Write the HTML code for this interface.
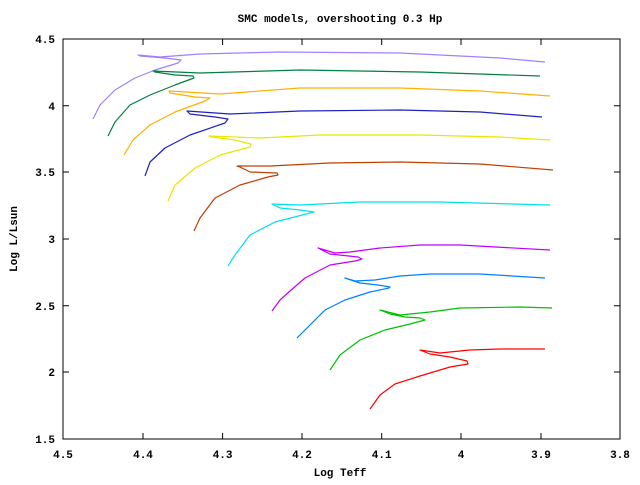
<!DOCTYPE html>
<html><head><meta charset="utf-8"><style>
body{margin:0;background:#fff}
svg text{font-family:"Liberation Mono",monospace;font-size:11px;font-weight:bold;fill:#000}
</style></head><body>
<svg width="640" height="480" viewBox="0 0 640 480" xmlns="http://www.w3.org/2000/svg">
<rect width="640" height="480" fill="#fff"/>
<rect x="63" y="39" width="557" height="400" fill="none" stroke="#000" stroke-width="1"/>
<g stroke="#000" stroke-width="1">
<path d="M143,439v-6M143,39v6M222.6,439v-6M222.6,39v6M302,439v-6M302,39v6M381.7,439v-6M381.7,39v6M461,439v-6M461,39v6M541,439v-6M541,39v6"/>
<path d="M63,372h6M620,372h-6M63,305.7h6M620,305.7h-6M63,239h6M620,239h-6M63,172h6M620,172h-6M63,105.7h6M620,105.7h-6"/>
</g>
<g text-anchor="end">
<text x="55" y="443">1.5</text><text x="55" y="376">2</text><text x="55" y="310">2.5</text>
<text x="55" y="243">3</text><text x="55" y="176">3.5</text><text x="55" y="110">4</text><text x="55" y="43">4.5</text>
</g>
<g text-anchor="middle">
<text x="63" y="458">4.5</text><text x="143" y="458">4.4</text><text x="222.6" y="458">4.3</text><text x="302" y="458">4.2</text>
<text x="381.7" y="458">4.1</text><text x="461" y="458">4</text><text x="541" y="458">3.9</text><text x="620" y="458">3.8</text>
<text x="340" y="476">Log Teff</text>
<text x="340" y="22">SMC models, overshooting 0.3 Hp</text>
</g>
<text transform="translate(17,239) rotate(-90)" text-anchor="middle">Log L/Lsun</text>
<g fill="none" stroke-width="1.2" stroke-linejoin="round">
<path stroke="#a080ff" d="M93,119L100,105L115,90L135,78L155,70L178,63L181,60L165,58L140,56L138,55L160,57L200,54L280,52L400,53L500,58L545,62"/>
<path stroke="#008040" d="M108,136L115,122L130,105L150,95L175,85L194,78L193,76L175,75L155,72L153,71L200,73L300,70L420,72L540,76"/>
<path stroke="#ffb000" d="M124,155L133,140L150,125L175,112L205,101L210,98L195,97L170,93L169,91L220,94L300,88L400,88L480,91L550,96"/>
<path stroke="#2020c0" d="M145,176L150,162L165,148L190,135L225,123L228,119L215,117L190,114L187,111L230,114L300,111L400,110L480,112L542,117"/>
<path stroke="#e8e800" d="M168,201L175,185L195,168L220,155L250,147L251,144L235,140L212,137L209,136L260,138L320,135L420,135L500,137L550,140"/>
<path stroke="#c04000" d="M194,231L200,218L215,198L240,185L268,177L278,175L277,173L250,172L240,167L237,166L270,166L330,163L400,162L480,164L553,170"/>
<path stroke="#00e0f0" d="M228,266L235,255L250,235L275,222L310,213L314,212L300,210L280,208L272,204L300,205L360,202L440,202L550,205"/>
<path stroke="#c000ff" d="M272,311L280,300L290,291L305,278L330,265L355,261L362,259L358,257L330,254L318,248L335,253L350,252L380,248L420,245L460,245L550,250"/>
<path stroke="#0080ff" d="M297,338L310,325L325,310L345,300L370,292L389,288L390,287L378,285L360,283L345,278L355,281L375,280L400,276L430,274L480,274L545,278"/>
<path stroke="#00c000" d="M330,370L340,355L360,340L385,330L410,324L425,320L420,318L405,317L390,314L380,310L400,315L430,312L460,308L520,307L552,308"/>
<path stroke="#ff0000" d="M370,409L380,395L395,384L420,376L450,367L468,364L467,361L450,357L430,354L420,350L440,353L470,350L500,349L545,349"/>
</g>
</svg>
</body></html>
